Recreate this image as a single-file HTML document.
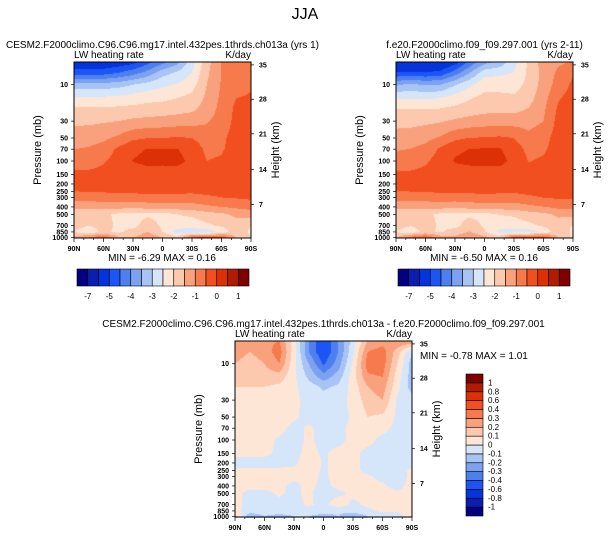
<!DOCTYPE html>
<html><head><meta charset="utf-8"><style>
body{margin:0;background:#fff;width:609px;height:538px;overflow:hidden;position:relative;font-family:"Liberation Sans",sans-serif}
canvas{position:absolute}
svg{position:absolute;left:0;top:0}
</style></head><body>
<canvas id="cA" style="left:74px;top:62px" width="177" height="176"></canvas>
<canvas id="cB" style="left:396px;top:62px" width="177" height="176"></canvas>
<canvas id="cD" style="left:235px;top:341px" width="177" height="177"></canvas>
<svg id="s" width="609" height="538" xmlns="http://www.w3.org/2000/svg" font-family="Liberation Sans, sans-serif">
<text x="305" y="19" font-size="16" text-anchor="middle">JJA</text>
</svg>
<script>
const lats=[90,75,60,45,30,15,0,-15,-30,-45,-60,-75,-90];
const levels=[5,7,10,15,20,30,50,70,100,150,200,250,300,400,500,700,850,1000];
const fieldA=[
[-5.5,-5.5,-5.5,-5.4,-5.2,-4.7,-4.2,-3.7,-2.7,-1.7,-1.0,-0.8,-0.7],
[-4.7,-4.7,-4.7,-4.5,-4.2,-3.8,-3.2,-2.9,-2.5,-1.6,-1.0,-0.75,-0.65],
[-3.3,-3.3,-3.3,-3.2,-3.0,-2.8,-2.6,-2.45,-2.2,-1.5,-0.95,-0.7,-0.55],
[-2.4,-2.4,-2.4,-2.35,-2.25,-2.15,-2.1,-2.0,-1.85,-1.4,-0.9,-0.5,-0.45],
[-1.95,-1.95,-1.95,-1.95,-1.9,-1.85,-1.82,-1.75,-1.65,-1.3,-0.85,-0.4,-0.35],
[-1.6,-1.6,-1.55,-1.5,-1.4,-1.35,-1.3,-1.25,-1.2,-1.05,-0.8,-0.35,-0.3],
[-1.25,-1.2,-1.1,-0.9,-0.6,-0.5,-0.5,-0.45,-0.5,-0.75,-0.6,-0.3,-0.25],
[-1.0,-0.95,-0.8,-0.4,-0.1,0.02,0.02,0.02,-0.2,-0.6,-0.55,-0.3,-0.25],
[-0.7,-0.7,-0.55,-0.3,0.02,0.12,0.1,0.12,-0.1,-0.5,-0.45,-0.3,-0.25],
[-0.4,-0.4,-0.35,-0.3,-0.25,-0.2,-0.2,-0.2,-0.25,-0.3,-0.3,-0.25,-0.2],
[-0.35,-0.35,-0.3,-0.3,-0.3,-0.3,-0.35,-0.3,-0.3,-0.3,-0.25,-0.25,-0.2],
[-0.5,-0.48,-0.45,-0.42,-0.4,-0.4,-0.42,-0.4,-0.4,-0.35,-0.3,-0.3,-0.3],
[-0.8,-0.8,-0.75,-0.7,-0.7,-0.65,-0.6,-0.65,-0.7,-0.6,-0.5,-0.45,-0.4],
[-1.3,-1.3,-1.3,-1.3,-1.4,-1.3,-1.3,-1.25,-1.2,-1.1,-1.0,-0.9,-0.8],
[-2,-1.9,-1.9,-2.1,-2.2,-2.1,-2.2,-2,-1.9,-1.7,-1.6,-1.4,-1.3],
[-1.8,-2,-1.8,-2.1,-2.2,-1.7,-2.1,-2.3,-2.3,-2.1,-1.9,-1.7,-2],
[-2,-2.3,-1.9,-2.1,-1.8,-1.5,-2,-2.7,-2.8,-2.8,-2.4,-1.6,-2.1],
[-1.4,-1,-0.6,-1.4,-1.5,-1.2,-1.5,-1.9,-0.6,-0.3,-0.4,-1.6,-2]];
const diff=[
[0.25,0.22,0.28,0.3,0.05,-0.3,-0.5,-0.3,-0.05,0.2,0.25,0.3,0.3],
[0.25,0.2,0.25,0.35,0.05,-0.3,-0.5,-0.3,-0.02,0.3,0.35,0.15,-0.1],
[0.2,0.15,0.2,0.3,0.03,-0.2,-0.42,-0.25,0.02,0.35,0.35,0.1,-0.15],
[0.15,0.12,0.15,0.15,0.02,-0.12,-0.25,-0.15,0.05,0.28,0.3,0.05,-0.15],
[0.1,0.1,0.1,0.08,0.02,-0.05,-0.12,-0.08,0.04,0.2,0.25,0.03,-0.15],
[0.06,0.06,0.06,0.05,0.02,-0.03,-0.05,-0.04,0.03,0.15,0.2,-0.02,-0.05],
[0.05,0.05,0.05,0.04,0.01,-0.02,-0.03,-0.03,0.01,0.1,0.08,-0.02,-0.03],
[0.05,0.04,0.03,0.02,-0.02,0.01,-0.02,-0.02,0.02,0.05,0.02,-0.02,-0.03],
[0.03,0.03,0.02,-0.01,-0.02,0.01,-0.02,-0.02,0.02,0.02,-0.02,-0.02,-0.02],
[0.01,0.01,0.01,-0.01,-0.02,0.02,-0.01,0.02,0.02,-0.02,-0.02,-0.02,-0.02],
[-0.02,-0.02,-0.02,-0.02,-0.02,0.06,-0.01,0.02,0.02,-0.02,-0.02,-0.02,-0.02],
[0.01,0.01,0.01,0.01,0.02,0.03,-0.01,0.02,0.02,-0.02,-0.02,-0.02,0.01],
[0.02,0.02,0.02,0.02,0.02,0.02,-0.01,0.02,0.02,0.01,-0.02,-0.02,0.01],
[0.02,0.02,0.02,0.02,-0.02,0.02,-0.02,0.02,0.02,0.02,0.01,-0.02,0.02],
[0.02,-0.02,-0.02,0.01,-0.02,0.02,-0.05,-0.02,0.02,0.02,0.02,0.01,0.02],
[0.02,-0.02,-0.02,-0.02,-0.02,0.01,-0.02,0.05,-0.02,0.02,0.02,0.02,0.02],
[0.02,-0.03,-0.05,-0.02,-0.05,-0.02,-0.05,-0.08,-0.05,-0.02,0.02,0.02,0.02],
[0.15,-0.2,-0.1,-0.15,-0.1,-0.1,-0.15,-0.1,-0.2,-0.1,-0.05,-0.05,0.05]];
const edgesAbs=[-7,-6,-5,-4.5,-4,-3.5,-3,-2.5,-2,-1.5,-1,-0.5,0,0.5,1];
const edgesDiff=[-1,-0.8,-0.6,-0.4,-0.3,-0.2,-0.1,0,0.1,0.2,0.3,0.4,0.6,0.8,1];
const absTickLabels=["-7","-5","-4","-3","-2","-1","0","1"];
const diffTickLabels=["-1","-0.8","-0.6","-0.4","-0.3","-0.2","-0.1","0","0.1","0.2","0.3","0.4","0.6","0.8","1"];
const pressTicks=[10,30,50,70,100,150,200,250,300,400,500,700,850,1000];
const heightTicks=[35,28,21,14,7];
const heightTickP=[5.5,15.5,44,130,370];
const latTicks=["90N","60N","30N","0","30S","60S","90S"];
const palette=["#03007f","#0a1fae","#0533dd","#1d55f5","#4d7fee","#7ba1f0","#a8c4f4","#d6e6fa","#fde6d6","#fcc9ae","#f9a17c","#f77a4c","#f14f1f","#dc3007","#b01c03","#7f0000"];
const fieldB=fieldA.map((r,i)=>r.map((v,j)=>v-diff[i][j]));

function yOfP(p){return 99+76.3*Math.log10(p/100);}
function sample(f,lat,lp){
  let fx=(90-lat)/15; let j=Math.min(11,Math.floor(fx)); let tx=fx-j;
  const ll=levels.map(Math.log10);
  let i=0; while(i<ll.length-2 && lp>ll[i+1]) i++;
  let ty=(lp-ll[i])/(ll[i+1]-ll[i]); ty=Math.max(0,Math.min(1,ty));
  const a=f[i][j],b=f[i][j+1],c=f[i+1][j],d=f[i+1][j+1];
  return (a*(1-tx)+b*tx)*(1-ty)+(c*(1-tx)+d*tx)*ty;
}
function hex(h){return [parseInt(h.slice(1,3),16),parseInt(h.slice(3,5),16),parseInt(h.slice(5,7),16)];}
const pal=palette.map(hex);
function paint(id,f,edges){
  const cv=document.getElementById(id),ctx=cv.getContext('2d');
  const W=cv.width,H=cv.height,img=ctx.createImageData(W,H);
  for(let y=0;y<H;y++){const lp=Math.log10(100)+(y+0.5-99)/76.3;
    for(let x=0;x<W;x++){const lat=90-180*(x+0.5)/W;const v=sample(f,lat,lp);
      let k=0;while(k<edges.length&&v>=edges[k])k++;
      const c=pal[k],o=(y*W+x)*4;img.data[o]=c[0];img.data[o+1]=c[1];img.data[o+2]=c[2];img.data[o+3]=255;}}
  ctx.putImageData(img,0,0);
}
paint('cA',fieldA,edgesAbs);paint('cB',fieldB,edgesAbs);paint('cD',diff,edgesDiff);

const s=document.getElementById('s');const NS="http://www.w3.org/2000/svg";
function el(t,a,txt,par){const e=document.createElementNS(NS,t);for(const k in a)e.setAttribute(k,a[k]);if(txt!==undefined)e.textContent=txt;(par||s).appendChild(e);return e;}
function axes(x0,y0,title,pref){
  const g=el('g',{});
  
  
  const W=177,H=176;
  const fr=el('rect',{x:x0,y:y0,width:W,height:H,fill:'none',stroke:'#000','stroke-width':1},undefined,g);
  
  
  let t=el('text',{x:x0,y:y0-4,'font-size':10},'LW heating rate',g);
  
  t=el('text',{x:x0+W,y:y0-4,'font-size':10,'text-anchor':'end'},'K/day',g);
  
  t=el('text',{x:x0+W/2,y:y0-14,'font-size':10,'text-anchor':'middle'},title,g);
  
  pressTicks.forEach(p=>{const y=y0+yOfP(p);
    el('line',{x1:x0-3,x2:x0,y1:y,y2:y,stroke:'#000','stroke-width':0.7},undefined,g);
    const l=el('text',{x:x0-6,y:y+2.5,'font-size':7,'font-weight':'bold','text-anchor':'end'},String(p),g);
    });
  heightTicks.forEach((h,i)=>{const y=y0+yOfP(heightTickP[i]);
    el('line',{x1:x0+W,x2:x0+W+3,y1:y,y2:y,stroke:'#000','stroke-width':0.7},undefined,g);
    const l=el('text',{x:x0+W+8,y:y+2.5,'font-size':7,'font-weight':'bold'},String(h),g);
    });
  for(let d=0;d<=18;d++){const x=x0+W*d/18;const major=d%3==0;
    el('line',{x1:x,x2:x,y1:y0+H,y2:y0+H+(major?4:2),stroke:'#000','stroke-width':0.7},undefined,g);}
  latTicks.forEach((lb,i)=>{const l=el('text',{x:x0+W*i/6,y:y0+H+13,'font-size':7,'font-weight':'bold','text-anchor':'middle'},lb,g);
    });
  t=el('text',{transform:`translate(${x0-33},${y0+H/2}) rotate(-90)`,'font-size':11,'text-anchor':'middle'},'Pressure (mb)',g);
  
  t=el('text',{transform:`translate(${x0+W+28},${y0+H/2}) rotate(-90)`,'font-size':11,'text-anchor':'middle'},'Height (km)',g);
  
}
axes(74,62,'CESM2.F2000climo.C96.C96.mg17.intel.432pes.1thrds.ch013a (yrs 1)','left');
axes(396,62,'f.e20.F2000climo.f09_f09.297.001 (yrs 2-11)','right');
axes(235,341,'CESM2.F2000climo.C96.C96.mg17.intel.432pes.1thrds.ch013a - f.e20.F2000climo.f09_f09.297.001','diff');
let m=el('text',{x:162,y:261,'font-size':10,'text-anchor':'middle','xml:space':'preserve'},'MIN =  -6.29  MAX =   0.16');

m=el('text',{x:484,y:261,'font-size':10,'text-anchor':'middle','xml:space':'preserve'},'MIN =  -6.50  MAX =   0.16');

m=el('text',{x:420,y:359,'font-size':10,'xml:space':'preserve'},'MIN =  -0.78  MAX =   1.01');


function hbar(x0,y0,pref){const w=172/16;
  palette.forEach((c,i)=>{const r=el('rect',{x:x0+i*w,y:y0,width:w,height:17,fill:c,stroke:'#000','stroke-width':0.6});
    });
  absTickLabels.forEach((lb,i)=>{const l=el('text',{x:x0+w*(1+2*i),y:y0+30,'font-size':8,'text-anchor':'middle'},lb);
    });
}
hbar(77,269,'left');hbar(398,269,'right');
const vh=142/16;
palette.forEach((c,i)=>{const r=el('rect',{x:466,y:374+(15-i)*vh,width:17,height:vh,fill:c,stroke:'#000','stroke-width':0.6});
  });
diffTickLabels.forEach((lb,i)=>{const l=el('text',{x:488,y:374+(15-i)*vh+2.5,'font-size':8},lb);
  });
</script>
</body></html>
